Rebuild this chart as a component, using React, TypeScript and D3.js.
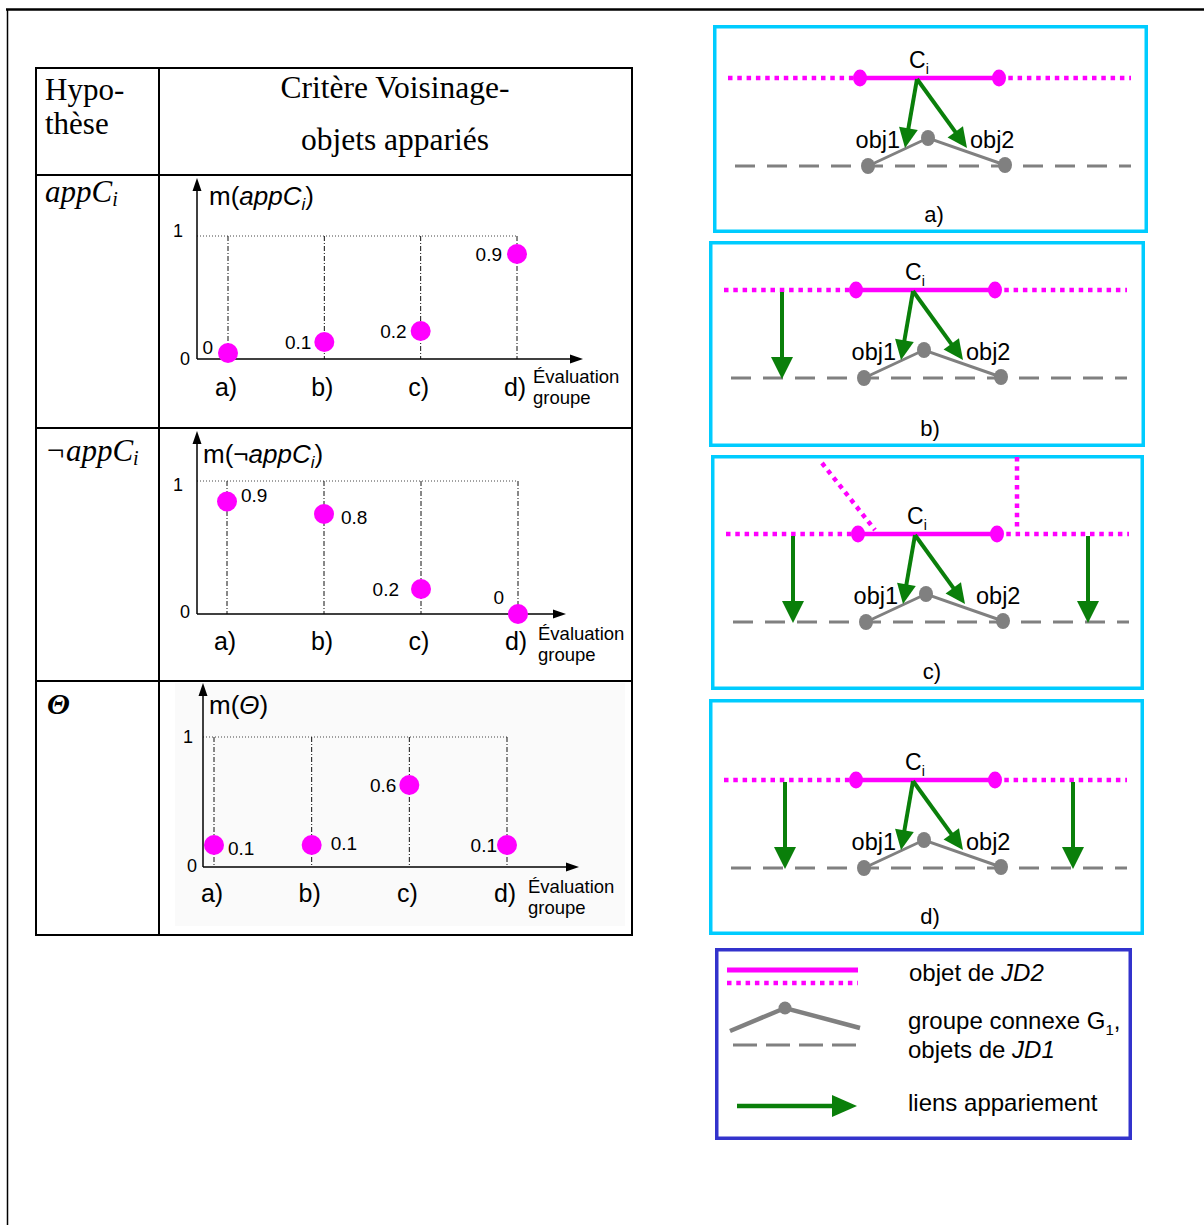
import React from 'react';
import * as d3 from 'd3';

// ---------- data ----------
const categories = ['a)', 'b)', 'c)', 'd)'];
const appValues = [0, 0.1, 0.2, 0.9];
const notAppValues = [0.9, 0.8, 0.2, 0];
const thetaValues = [0.1, 0.1, 0.6, 0.1];
const yTicks = [0, 1];
const panelLabels = ['a)', 'b)', 'c)', 'd)'];
const legendLabels = ['objet de ', 'groupe connexe G', 'objets de ', 'liens appariement'];

const SANS = "'Liberation Sans', Arial, sans-serif";
const SERIF = "'Liberation Serif', 'Times New Roman', serif";
const MAGENTA = '#ff00ff';
const GREEN = '#0a7f0a';
const GREY = '#808080';
const CYAN = '#00ccff';

// ---------- layout for the three small charts ----------
const charts = [
  {
    values: appValues, axisX: 197, yTop: 178, zero: 359, one: 236, xEnd: 583,
    xRange: [228, 517], ptRange: [353, 243], title: 'app', titleX: 209, titleY: 205,
    t1: [-14, 1], t0: [-7, 6], catY: 396, evalX: 533, evalY: 383, bg: false,
    lab: [[-15, -6, 'end'], [-13, 0, 'end'], [-14, 0, 'end'], [-15, 0, 'end']],
  },
  {
    values: notAppValues, axisX: 197, yTop: 431, zero: 614, one: 481, xEnd: 566,
    xRange: [227, 518], ptRange: [614, 489], title: 'notapp', titleX: 203, titleY: 463,
    t1: [-14, 10], t0: [-7, 4], catY: 650, evalX: 538, evalY: 640, bg: false,
    lab: [[14, -6, 'start'], [17, 3, 'start'], [-22, 0, 'end'], [-14, -17, 'end']],
  },
  {
    values: thetaValues, axisX: 203, yTop: 683, zero: 867, one: 737, xEnd: 579,
    xRange: [214, 507], ptRange: [857, 737], title: 'theta', titleX: 209, titleY: 714,
    t1: [-10, 6], t0: [-6, 5], catY: 902, evalX: 528, evalY: 893, bg: true,
    lab: [[14, 3, 'start'], [19, -2, 'start'], [-13, 0, 'end'], [-10, 0, 'end']],
  },
];

function Arrow({ x1, y1, x2, y2, hl, hw, sw, color }: any) {
  const a = Math.atan2(y2 - y1, x2 - x1);
  const c = Math.cos(a), s = Math.sin(a);
  const bx = x2 - hl * c, by = y2 - hl * s;
  const px = -s * hw / 2, py = c * hw / 2;
  return (
    <g>
      <line x1={x1} y1={y1} x2={bx + c} y2={by + s} stroke={color} strokeWidth={sw} />
      <polygon points={`${x2},${y2} ${bx + px},${by + py} ${bx - px},${by - py}`} fill={color} />
    </g>
  );
}

function Title({ kind, x, y }: any) {
  const fs = 26;
  if (kind === 'app')
    return (
      <text x={x} y={y} fontFamily={SANS} fontSize={fs}>
        m(<tspan fontStyle="italic">appC</tspan>
        <tspan fontStyle="italic" fontSize={17} dy={5}>i</tspan>
        <tspan dy={-5}>)</tspan>
      </text>
    );
  if (kind === 'notapp')
    return (
      <text x={x} y={y} fontFamily={SANS} fontSize={fs}>
        m(<tspan fontStyle="italic">¬appC</tspan>
        <tspan fontStyle="italic" fontSize={17} dy={5}>i</tspan>
        <tspan dy={-5}>)</tspan>
      </text>
    );
  return (
    <text x={x} y={y} fontFamily={SANS} fontSize={fs}>
      m(<tspan fontStyle="italic">Θ</tspan>)
    </text>
  );
}

function MiniChart({ cfg }: any) {
  const x = d3.scalePoint<string>().domain(categories).range(cfg.xRange);
  const yPt = d3.scaleLinear().domain([0, 1]).range(cfg.ptRange);
  const yAx = d3.scaleLinear().domain([0, 1]).range([cfg.zero, cfg.one]);
  const ax = cfg.axisX;
  const lastX = x(categories[categories.length - 1]) as number;
  return (
    <g>
      {cfg.bg && <rect x={175} y={683} width={450} height={243} fill="#fafafa" />}
      <line x1={ax} x2={lastX} y1={yAx(1)} y2={yAx(1)} stroke="#444" strokeWidth={1} strokeDasharray="1 2" />
      {categories.map((c) => (
        <line key={c} x1={x(c)} x2={x(c)} y1={yAx(1)} y2={yAx(0)} stroke="#111" strokeWidth={1} strokeDasharray="5 2 1 2" />
      ))}
      <line x1={ax} x2={ax} y1={yAx(0)} y2={cfg.yTop + 10} stroke="#000" strokeWidth={1.5} />
      <polygon points={`${ax},${cfg.yTop} ${ax - 4.5},${cfg.yTop + 13} ${ax + 4.5},${cfg.yTop + 13}`} fill="#000" />
      <line x1={ax} x2={cfg.xEnd - 10} y1={yAx(0)} y2={yAx(0)} stroke="#000" strokeWidth={1.5} />
      <polygon points={`${cfg.xEnd},${yAx(0)} ${cfg.xEnd - 13},${yAx(0) - 4.5} ${cfg.xEnd - 13},${yAx(0) + 4.5}`} fill="#000" />
      {yTicks.map((t) => (
        <text key={t} x={ax + (t === 1 ? cfg.t1[0] : cfg.t0[0])} y={yAx(t) + (t === 1 ? cfg.t1[1] : cfg.t0[1])}
          fontFamily={SANS} fontSize={18} textAnchor="end">{t}</text>
      ))}
      <Title kind={cfg.title} x={cfg.titleX} y={cfg.titleY} />
      {cfg.values.map((v: number, i: number) => {
        const cx = x(categories[i]) as number;
        const cy = yPt(v);
        const [dx, dy, anchor] = cfg.lab[i];
        return (
          <g key={i}>
            <circle cx={cx} cy={cy} r={10} fill={MAGENTA} />
            <text x={cx + dx} y={cy + dy} dy="0.35em" fontFamily={SANS} fontSize={19} textAnchor={anchor}>{String(v)}</text>
          </g>
        );
      })}
      {categories.map((c) => (
        <text key={c} x={(x(c) as number) - 2} y={cfg.catY} fontFamily={SANS} fontSize={25} textAnchor="middle">{c}</text>
      ))}
      <text x={cfg.evalX} y={cfg.evalY} fontFamily={SANS} fontSize={18.5}>Évaluation</text>
      <text x={cfg.evalX} y={cfg.evalY + 21} fontFamily={SANS} fontSize={18.5}>groupe</text>
    </g>
  );
}

// ---------- right-hand schematic panels ----------
const panels = [
  { x: 713, y: 25, w: 435, h: 208, lineDy: 53, side: [] as number[], extra: false, obj2dx: 0 },
  { x: 709, y: 241, w: 436, h: 206, lineDy: 49, side: [73], extra: false, obj2dx: 0 },
  { x: 711, y: 455, w: 433, h: 235, lineDy: 79, side: [82, 377], extra: true, obj2dx: 8 },
  { x: 709, y: 699, w: 435, h: 236, lineDy: 81, side: [76, 364], extra: false, obj2dx: 0 },
];

const line = d3.line<[number, number]>();

function Panel({ p, label }: any) {
  const X = (d: number) => p.x + d;
  const my = p.y + p.lineDy;
  const gy = my + 88;
  const group: [number, number][] = [[X(155), gy], [X(215), my + 60], [X(292), gy - 1]];
  return (
    <g>
      <rect x={p.x + 1.75} y={p.y + 1.75} width={p.w - 3.5} height={p.h - 3.5} fill="#fff" stroke={CYAN} strokeWidth={3.5} />
      <line x1={X(22)} x2={X(418)} y1={gy} y2={gy} stroke={GREY} strokeWidth={3} strokeDasharray="20 12" />
      <line x1={X(15)} x2={X(146)} y1={my} y2={my} stroke={MAGENTA} strokeWidth={4.5} strokeDasharray="4.5 4.8" />
      <line x1={X(286)} x2={X(418)} y1={my} y2={my} stroke={MAGENTA} strokeWidth={4.5} strokeDasharray="4.5 4.8" />
      {p.extra && (
        <g>
          <line x1={X(111)} y1={my - 71} x2={X(164)} y2={my - 4} stroke={MAGENTA} strokeWidth={4.5} strokeDasharray="4.5 4.8" />
          <line x1={X(306)} y1={my - 77} x2={X(306)} y2={my - 4} stroke={MAGENTA} strokeWidth={4.5} strokeDasharray="4.5 4.8" />
        </g>
      )}
      <line x1={X(146)} x2={X(286)} y1={my} y2={my} stroke={MAGENTA} strokeWidth={4.5} />
      <ellipse cx={X(147)} cy={my} rx={7} ry={8.5} fill={MAGENTA} />
      <ellipse cx={X(286)} cy={my} rx={7} ry={8.5} fill={MAGENTA} />
      <path d={line(group) as string} fill="none" stroke={GREY} strokeWidth={3} />
      {group.map((g, i) => (
        <ellipse key={i} cx={g[0]} cy={g[1]} rx={7} ry={8} fill={GREY} />
      ))}
      <Arrow x1={X(204)} y1={my + 1} x2={X(192)} y2={my + 70} hl={20} hw={19} sw={4} color={GREEN} />
      <Arrow x1={X(204)} y1={my + 1} x2={X(254)} y2={my + 70} hl={20} hw={19} sw={4} color={GREEN} />
      {p.side.map((s: number) => (
        <Arrow key={s} x1={X(s)} y1={my + 2} x2={X(s)} y2={gy + 1} hl={22} hw={22} sw={4} color={GREEN} />
      ))}
      <text x={X(196)} y={my - 10} fontFamily={SANS} fontSize={23}>C<tspan fontSize={14} dy={6}>i</tspan></text>
      <text x={X(187)} y={my + 70} fontFamily={SANS} fontSize={23.5} textAnchor="end">obj1</text>
      <text x={X(257 + p.obj2dx)} y={my + 70} fontFamily={SANS} fontSize={23.5}>obj2</text>
      <text x={X(221)} y={p.y + p.h - 11} fontFamily={SANS} fontSize={22} textAnchor="middle">{label}</text>
    </g>
  );
}

function Legend() {
  const lx = 715, ly = 948, lw = 417, lh = 192;
  const g: [number, number][] = [[730, 1031], [785, 1008], [860, 1028]];
  return (
    <g>
      <rect x={lx + 1.75} y={ly + 1.75} width={lw - 3.5} height={lh - 3.5} fill="#fff" stroke="#3333cc" strokeWidth={3.5} />
      <line x1={727} x2={858} y1={970} y2={970} stroke={MAGENTA} strokeWidth={5} />
      <line x1={727} x2={858} y1={983} y2={983} stroke={MAGENTA} strokeWidth={4.5} strokeDasharray="4.5 4.8" />
      <path d={line(g) as string} fill="none" stroke={GREY} strokeWidth={4.5} />
      <circle cx={785} cy={1008} r={6.5} fill={GREY} />
      <line x1={733} x2={858} y1={1045} y2={1045} stroke={GREY} strokeWidth={3} strokeDasharray="24 9" />
      <Arrow x1={737} y1={1106} x2={857} y2={1106} hl={25} hw={22} sw={4.5} color={GREEN} />
      <text x={909} y={981} fontFamily={SANS} fontSize={24}>{legendLabels[0]}<tspan fontStyle="italic">JD2</tspan></text>
      <text x={908} y={1029} fontFamily={SANS} fontSize={24}>{legendLabels[1]}<tspan fontSize={15} dy={6}>1</tspan><tspan dy={-6}>,</tspan></text>
      <text x={908} y={1058} fontFamily={SANS} fontSize={24}>{legendLabels[2]}<tspan fontStyle="italic">JD1</tspan></text>
      <text x={908} y={1111} fontFamily={SANS} fontSize={24}>{legendLabels[3]}</text>
    </g>
  );
}

export default function App() {
  return (
    <svg width={1204} height={1225} style={{ position: 'absolute', left: 0, top: 0, background: '#fff' }}>
      <rect x={0} y={0} width={1204} height={1225} fill="#fff" />
      <line x1={6} x2={1204} y1={9.5} y2={9.5} stroke="#000" strokeWidth={2.5} />
      <line x1={7.5} x2={7.5} y1={9} y2={1225} stroke="#000" strokeWidth={1.5} />

      {charts.map((c, i) => <MiniChart key={i} cfg={c} />)}
      <g stroke="#000" strokeWidth={2} fill="none">
        <rect x={36} y={68} width={596} height={867} />
        <line x1={159} x2={159} y1={68} y2={935} />
        <line x1={36} x2={632} y1={175} y2={175} />
        <line x1={36} x2={632} y1={428} y2={428} />
        <line x1={36} x2={632} y1={681} y2={681} />
      </g>
      <text x={45} y={100} fontFamily={SERIF} fontSize={31}>Hypo-</text>
      <text x={45} y={134} fontFamily={SERIF} fontSize={31}>thèse</text>
      <text x={395} y={98} fontFamily={SERIF} fontSize={31.5} textAnchor="middle">Critère Voisinage-</text>
      <text x={395} y={150} fontFamily={SERIF} fontSize={31.5} textAnchor="middle">objets appariés</text>
      <text x={45} y={202} fontFamily={SERIF} fontSize={31} fontStyle="italic">appC<tspan fontSize={20} dy={4}>i</tspan></text>
      <text x={45} y={461} fontFamily={SERIF} fontSize={31} fontStyle="italic">¬appC<tspan fontSize={20} dy={4}>i</tspan></text>
      <text x={47} y={714} fontFamily={SERIF} fontSize={30} fontStyle="italic" fontWeight="bold">Θ</text>

      {panels.map((p, i) => <Panel key={i} p={p} label={panelLabels[i]} />)}
      <Legend />
    </svg>
  );
}
